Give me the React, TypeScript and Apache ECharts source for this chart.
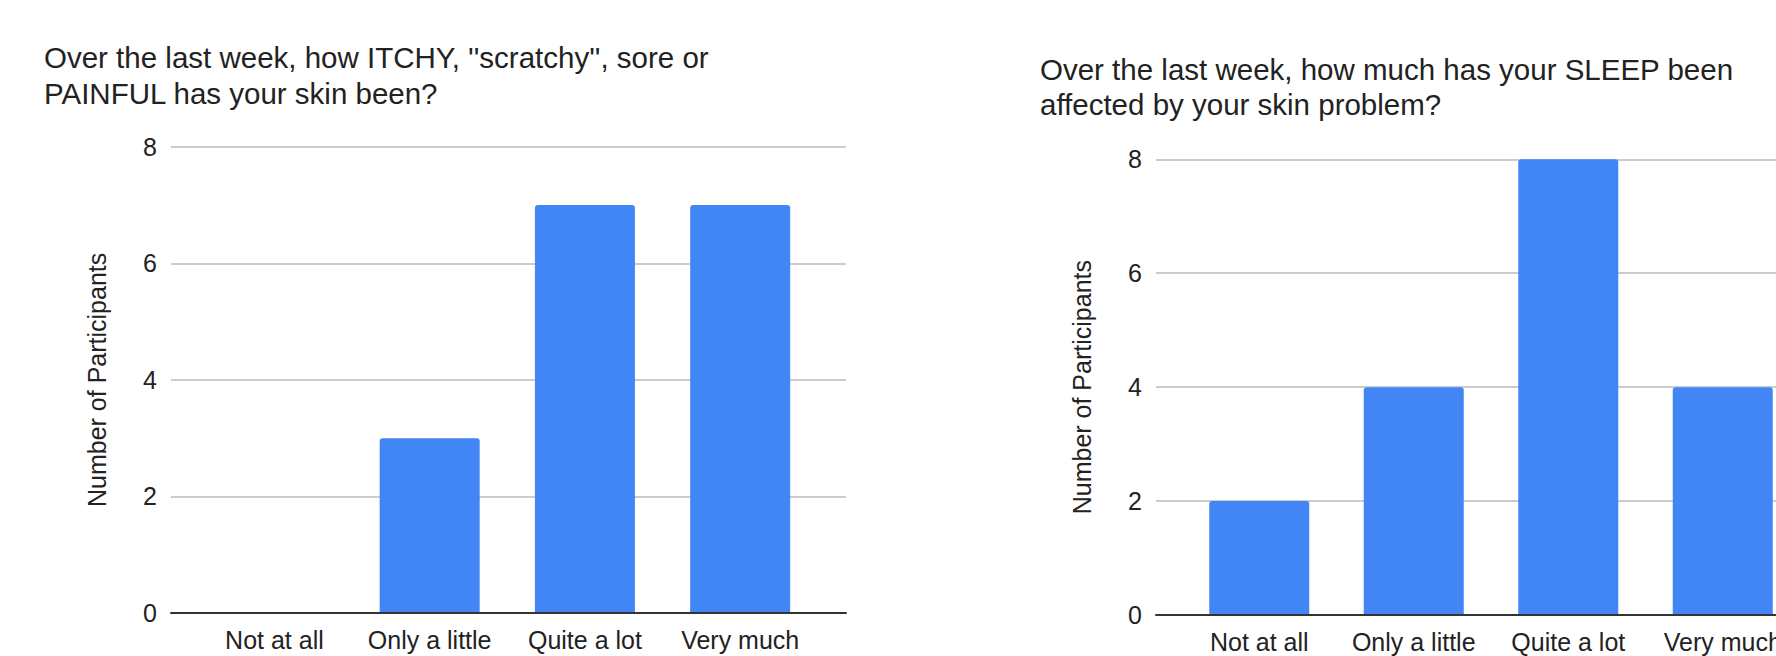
import React, { useEffect, useRef } from "react";
import * as echarts from "echarts";

// Survey answers shared by both questions
const categories = ["Not at all", "Only a little", "Quite a lot", "Very much"];

// Participant counts per answer
const itchyValues = [0, 3, 7, 7];
const sleepValues = [2, 4, 8, 4];

const titleItchy = "Over the last week, how ITCHY, ''scratchy'', sore or\nPAINFUL has your skin been?";
const titleSleep = "Over the last week, how much has your SLEEP been\naffected by your skin problem?";
const yAxisName = "Number of Participants";

const FONT = '"Liberation Sans", Arial, sans-serif';
const TEXT = "#222222";
const BLUE = "#4285F4";

export default function App() {
  const ref = useRef<HTMLDivElement>(null);

  useEffect(() => {
    if (!ref.current) return;
    const chart = echarts.init(ref.current, undefined, { renderer: "svg" });

    // Each panel uses two grids: a wider one carrying the gridlines, value labels
    // and baseline, and an inset one holding the bars and category labels.
    const panels = [
      { frame: { left: 171, top: 146.7, width: 675, height: 466.3 }, bars: { left: 196.8, width: 621 }, values: itchyValues },
      { frame: { left: 1156, top: 159.3, width: 668, height: 455.7 }, bars: { left: 1182, width: 618 }, values: sleepValues },
    ];

    const grid: any[] = [];
    const xAxis: any[] = [];
    const yAxis: any[] = [];
    const series: any[] = [];

    panels.forEach((p, i) => {
      const fi = i * 2;
      const bi = i * 2 + 1;
      grid.push({
        left: p.frame.left,
        top: p.frame.top,
        width: p.frame.width,
        height: p.frame.height,
        containLabel: false,
        outerBoundsMode: "none",
      });
      grid.push({
        left: p.bars.left,
        top: p.frame.top,
        width: p.bars.width,
        height: p.frame.height,
        containLabel: false,
        outerBoundsMode: "none",
      });

      xAxis.push({
        type: "category",
        gridIndex: fi,
        data: categories,
        axisLine: { show: true, lineStyle: { color: "#333333", width: 2 } },
        axisTick: { show: false },
        axisLabel: { show: false },
        splitLine: { show: false },
        z: 5,
      });
      xAxis.push({
        type: "category",
        gridIndex: bi,
        data: categories,
        axisLine: { show: false },
        axisTick: { show: false },
        axisLabel: {
          show: true,
          fontSize: 25,
          lineHeight: 30,
          color: TEXT,
          fontFamily: FONT,
          margin: 12,
          interval: 0,
          hideOverlap: false,
        },
      });

      yAxis.push({
        type: "value",
        gridIndex: fi,
        min: 0,
        max: 8,
        interval: 2,
        name: yAxisName,
        nameLocation: "middle",
        nameGap: 62,
        nameTextStyle: { fontSize: 25, color: TEXT, fontFamily: FONT },
        axisLine: { show: false },
        axisTick: { show: false },
        axisLabel: { fontSize: 25, color: TEXT, fontFamily: FONT, margin: 14 },
        splitLine: { show: true, lineStyle: { color: "#cccccc", width: 2 } },
      });
      yAxis.push({
        type: "value",
        gridIndex: bi,
        min: 0,
        max: 8,
        interval: 2,
        show: false,
      });

      series.push({
        type: "bar",
        xAxisIndex: bi,
        yAxisIndex: bi,
        data: p.values,
        barWidth: 100,
        itemStyle: { color: BLUE, borderRadius: [3, 3, 0, 0] },
        z: 3,
      });
    });

    chart.setOption({
      animation: false,
      backgroundColor: "#ffffff",
      title: [
        {
          text: titleItchy,
          left: 44,
          top: 39,
          padding: 0,
          textStyle: { fontSize: 29.5, lineHeight: 36, fontWeight: "normal", color: TEXT, fontFamily: FONT },
        },
        {
          text: titleSleep,
          left: 1040,
          top: 52,
          padding: 0,
          textStyle: { fontSize: 29.5, lineHeight: 35, fontWeight: "normal", color: TEXT, fontFamily: FONT },
        },
      ],
      grid,
      xAxis,
      yAxis,
      series,
    });

    return () => chart.dispose();
  }, []);

  return (
    <div
      ref={ref}
      style={{ position: "absolute", left: 0, top: 0, width: 1776, height: 656, background: "#ffffff" }}
    />
  );
}
